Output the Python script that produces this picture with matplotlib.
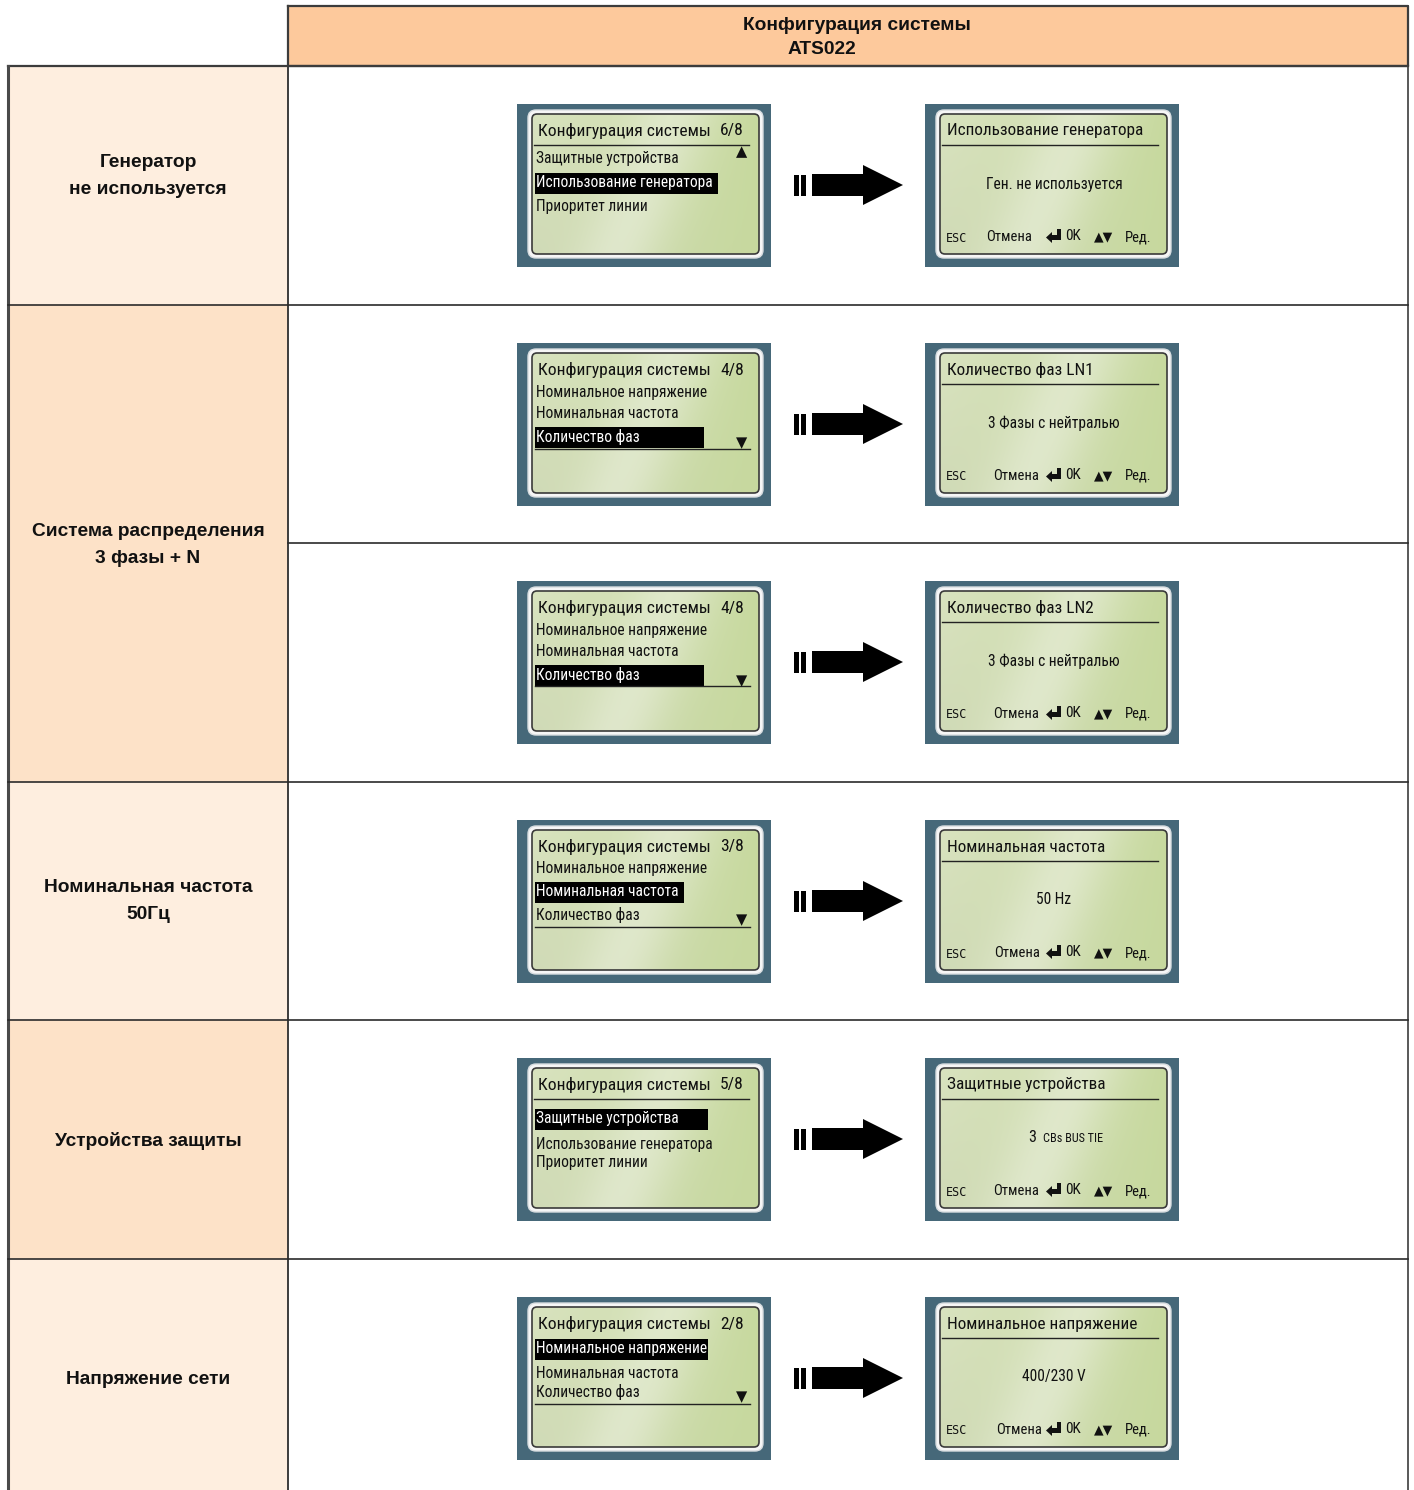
import numpy as np
import matplotlib.pyplot as plt
from matplotlib import font_manager
from matplotlib.patches import Rectangle, FancyBboxPatch, Polygon

W, H = 1414, 1490

# ---- content -------------------------------------------------------------
header_lines = ["Конфигурация системы", "ATS022"]

row_labels = [
    "Генератор\nне используется",
    "Система распределения\n3 фазы + N",
    "Номинальная частота\n50Гц",
    "Устройства защиты",
    "Напряжение сети",
]

menu_title = "Конфигурация системы"
menu_pages = ["6/8", "4/8", "4/8", "3/8", "5/8", "2/8"]
menu_a = ["Защитные устройства", "Использование генератора", "Приоритет линии"]
menu_b = ["Номинальное напряжение", "Номинальная частота", "Количество фаз"]
menu_items = [menu_a, menu_b, menu_b, menu_b, menu_a, menu_b]
menu_selected = [1, 2, 2, 1, 0, 0]
menu_scroll = ["up", "down", "down", "down", None, "down"]

param_titles = ["Использование генератора", "Количество фаз LN1", "Количество фаз LN2",
                "Номинальная частота", "Защитные устройства", "Номинальное напряжение"]
param_values = ["Ген. не используется", "3 Фазы с нейтралью", "3 Фазы с нейтралью",
                "50 Hz", "3", "400/230 V"]
param_suffix = ["", "", "", "", "CBs BUS TIE", ""]
footer = ["ESC", "Отмена", "0K", "Ред."]

# ---- layout --------------------------------------------------------------
left_x0, col_x, right_x1 = 8, 288, 1408
head_y0, head_y1 = 6, 66
row_bounds = [66, 305, 782, 1020, 1259, 1500]
cell_bounds = [66, 305, 543, 782, 1020, 1259, 1500]
row_fill = ["#FEEEDF", "#FDE2C8", "#FEEEDF", "#FDE2C8", "#FEEEDF"]
label_y = [176, 545, 901, 1141, 1380]

scr_w, scr_h, scr_off = 254, 163, 38
scr_left_x, scr_right_x = 517, 925
item_y = [[54, 79, 103], [50, 71, 94], [49, 70, 94], [49, 72, 95], [61, 86, 105], [52, 76, 95]]
title_rule = [True, False, False, False, True, False]
bottom_rule = [None, 106, 105, 107, None, 107]
sel_width = [183, 169, 169, 149, 173, 173]
cancel_x = [61, 68, 68, 69, 68, 71]

LINE = "#2b2b2b"
FRAME = "#466879"

# narrow font for the LCD text
avail = {f.name for f in font_manager.fontManager.ttflist}
lcd_font, lcd_stretch = "Liberation Sans", "normal"
for cand in ["Liberation Sans Narrow", "Roboto Condensed", "Open Sans Condensed", "Noto Sans Condensed"]:
    if cand in avail:
        lcd_font = cand
        break
LCD = dict(family=[lcd_font, "DejaVu Sans"], fontstretch=lcd_stretch, color="#111111")
BOLD = dict(family=["Liberation Sans", "DejaVu Sans"], fontweight="bold", color="#111111")

fig = plt.figure(figsize=(W / 100, H / 100), dpi=100)
ax = fig.add_axes([0, 0, 1, 1])
ax.set_xlim(0, W)
ax.set_ylim(H, 0)
ax.set_autoscale_on(False)
ax.axis("off")

# gradient texture for the LCD panel
gy, gx = np.mgrid[0:1:80j, 0:1:120j]
c_left = np.array([0.85, 0.89, 0.75])
c_right = np.array([0.78, 0.85, 0.62])
base = c_left + (c_right - c_left) * gx[..., None]
base = base - 0.035 * (gy * (1 - gx))[..., None]
streak = np.exp(-((gx + 0.25 * gy - 0.62) / 0.2) ** 2)
lcd_img = np.clip(base + (np.array([0.92, 0.94, 0.87]) - base) * streak[..., None] * 0.6, 0, 1)


def lcd_frame(x0, y0):
    ax.add_patch(Rectangle((x0, y0), scr_w, scr_h, fc=FRAME, ec="none", zorder=2))
    ax.add_patch(FancyBboxPatch((x0 + 11, y0 + 6), 235, 148, boxstyle="round,pad=0,rounding_size=8",
                                fc="#f6f6f6", ec="#d8dde0", lw=1, zorder=3))
    panel = FancyBboxPatch((x0 + 15, y0 + 10), 227, 140, boxstyle="round,pad=0,rounding_size=5",
                           fc="none", ec="#3a3a3a", lw=1.2, zorder=5)
    ax.add_patch(panel)
    im = ax.imshow(lcd_img, extent=(x0 + 15, x0 + 242, y0 + 150, y0 + 10), origin="upper",
                   aspect="auto", interpolation="bilinear", zorder=4)
    im.set_clip_path(panel)


def enter_icon(cx, cy):
    pts = [(-8, 0.5), (-2, -5), (-2, -2), (3, -2), (3, -8), (7, -8), (7, 3), (-2, 3), (-2, 6)]
    ax.add_patch(Polygon([(cx + px, cy + py) for px, py in pts], closed=True, fc="#111111", ec="none", zorder=7))


def flow_arrow(cy):
    for bx in (794, 801):
        ax.add_patch(Rectangle((bx, cy - 10), 5, 21, fc="black", ec="none", zorder=3))
    ax.add_patch(Rectangle((812, cy - 11), 53, 22, fc="black", ec="none", zorder=3))
    ax.add_patch(Polygon([(863, cy - 20), (903, cy), (863, cy + 20)], closed=True, fc="black", ec="none", zorder=3))


# ---- table ---------------------------------------------------------------
ax.add_patch(Rectangle((col_x, head_y0), right_x1 - col_x, head_y1 - head_y0, fc="#FDC99C", ec="none", zorder=1))
ax.text(857, 25, header_lines[0], ha="center", va="center", fontsize=13.8, **BOLD, zorder=6)
ax.text(822, 49, header_lines[1], ha="center", va="center", fontsize=13.8, **BOLD, zorder=6)

for i, lab in enumerate(row_labels):
    y0, y1 = row_bounds[i], row_bounds[i + 1]
    ax.add_patch(Rectangle((left_x0, y0), col_x - left_x0, y1 - y0, fc=row_fill[i], ec="none", zorder=1))
    ax.text(148, label_y[i], lab, ha="center", va="center", fontsize=13.8, linespacing=1.7, **BOLD, zorder=6)

# grid lines
ax.plot([col_x, right_x1, right_x1, col_x, col_x], [head_y0, head_y0, head_y1, head_y1, head_y0], color="#3c3c3c", lw=1.6, zorder=8)
ax.plot([left_x0, right_x1], [head_y1, head_y1], color="#3c3c3c", lw=1.6, zorder=8)
ax.plot([left_x0, left_x0], [head_y1, H], color="#4a4a4a", lw=2.2, zorder=8)
ax.plot([col_x, col_x], [head_y0, H], color="#3c3c3c", lw=1.4, zorder=8)
ax.plot([right_x1, right_x1], [head_y0, H], color="#3c3c3c", lw=1.2, zorder=8)
for yb in row_bounds[1:-1]:
    ax.plot([left_x0, right_x1], [yb, yb], color=LINE, lw=1.2, zorder=8)
ax.plot([col_x, right_x1], [cell_bounds[2], cell_bounds[2]], color=LINE, lw=1.2, zorder=8)

# ---- screens -------------------------------------------------------------
for k in range(6):
    top = cell_bounds[k] + scr_off
    flow_arrow(top + 81)

    # menu screen
    x0 = scr_left_x
    lcd_frame(x0, top)
    ax.text(x0 + 21, top + 27, menu_title, ha="left", va="center", fontsize=12.6, **LCD, zorder=7)
    ax.text(x0 + 227, top + 27, menu_pages[k], ha="right", va="center", fontsize=12.6, **LCD, zorder=7)
    if title_rule[k]:
        ax.plot([x0 + 17, x0 + 232], [top + 41, top + 41], color="#222222", lw=1, zorder=7)
    for j, item in enumerate(menu_items[k]):
        yy = top + item_y[k][j]
        if j == menu_selected[k]:
            ax.add_patch(Rectangle((x0 + 18, yy - 10.5), sel_width[k], 21, fc="black", ec="none", zorder=6))
            ax.text(x0 + 19, yy, item, ha="left", va="center", fontsize=11.2, **{**LCD, "color": "white"}, zorder=7)
        else:
            ax.text(x0 + 19, yy, item, ha="left", va="center", fontsize=11.2, **LCD, zorder=7)
    if bottom_rule[k] is not None:
        ax.plot([x0 + 18, x0 + 233], [top + bottom_rule[k], top + bottom_rule[k]], color="#222222", lw=1, zorder=7)
    if menu_scroll[k] == "up":
        ax.text(x0 + 225, top + 48, "▲", ha="center", va="center", fontsize=10.5, family="DejaVu Sans", color="#111111", zorder=7)
    elif menu_scroll[k] == "down":
        ax.text(x0 + 225, top + 100, "▼", ha="center", va="center", fontsize=10.5, family="DejaVu Sans", color="#111111", zorder=7)

    # parameter screen
    x0 = scr_right_x
    lcd_frame(x0, top)
    ax.text(x0 + 22, top + 27, param_titles[k], ha="left", va="center", fontsize=12.4, **LCD, zorder=7)
    ax.plot([x0 + 17, x0 + 233], [top + 41, top + 41], color="#222222", lw=1, zorder=7)
    if param_suffix[k]:
        ax.text(x0 + 111, top + 80, param_values[k], ha="right", va="center", fontsize=11.5, **LCD, zorder=7)
        ax.text(x0 + 118, top + 81, param_suffix[k], ha="left", va="center", fontsize=8.8, **LCD, zorder=7)
    else:
        ax.text(x0 + 129, top + 80, param_values[k], ha="center", va="center", fontsize=11.2, **LCD, zorder=7)
    fy = top + 133
    ax.text(x0 + 21, fy + 1, footer[0], ha="left", va="center", fontsize=8.5, family="DejaVu Sans Mono", color="#111111", zorder=7)
    ax.text(x0 + cancel_x[k], fy, footer[1], ha="left", va="center", fontsize=10.5, **LCD, zorder=7)
    enter_icon(x0 + 129, fy)
    ax.text(x0 + 140, fy - 1, footer[2], ha="left", va="center", fontsize=11, **LCD, zorder=7)
    ax.text(x0 + 179, fy, "▲▼", ha="center", va="center", fontsize=9, family="DejaVu Sans", color="#111111", zorder=7)
    ax.text(x0 + 200, fy, footer[3], ha="left", va="center", fontsize=10.5, **LCD, zorder=7)

fig.savefig("out.png", dpi=100, facecolor="white")
